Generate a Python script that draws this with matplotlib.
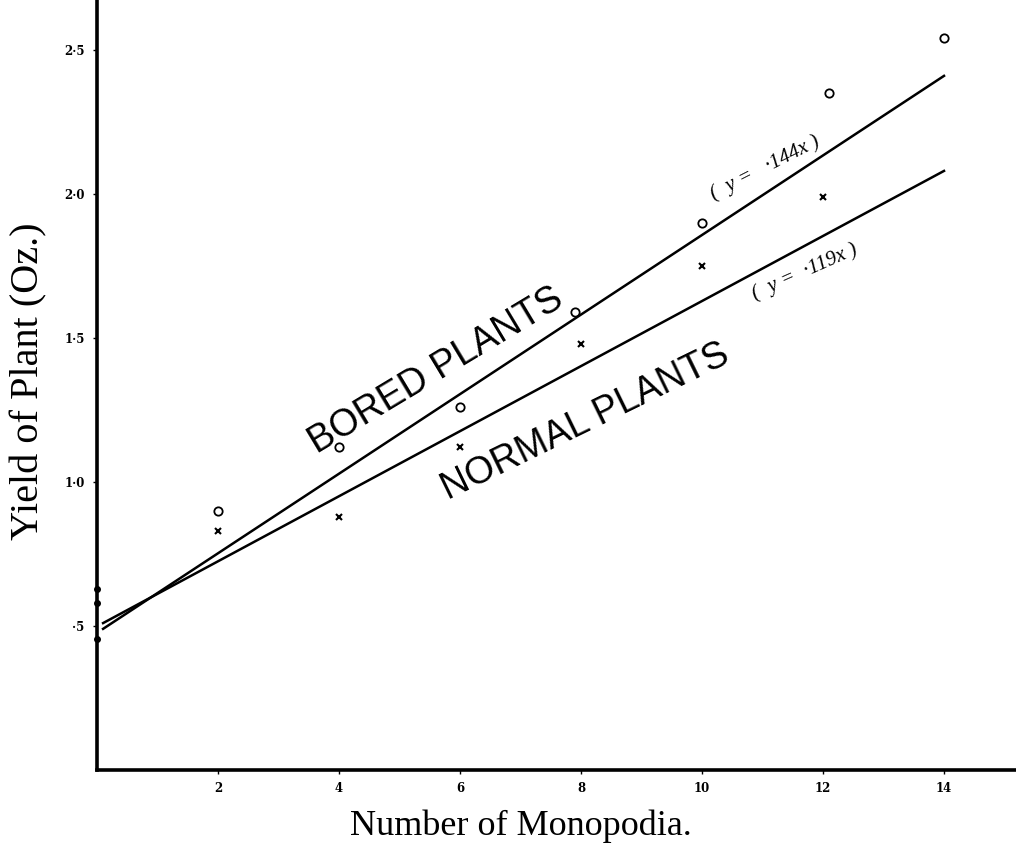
import matplotlib.pyplot as plt

# data
bored_x = [2, 4, 6, 7.9, 10, 12.1, 14]
bored_y = [0.90, 1.12, 1.26, 1.59, 1.90, 2.35, 2.54]
normal_x = [2, 4, 6, 8, 10, 12]
normal_y = [0.83, 0.88, 1.12, 1.48, 1.75, 1.99]
zero_y = [0.63, 0.58, 0.455]

# fitted lines (end points)
bored_line_x = [0.1, 14.0]
bored_line_y = [0.49, 2.41]
normal_line_x = [0.1, 14.0]
normal_line_y = [0.51, 2.08]

x_ticks = [2, 4, 6, 8, 10, 12, 14]
y_ticks = [0.5, 1.0, 1.5, 2.0, 2.5]
y_tick_labels = ['·5', '1·0', '1·5', '2·0', '2·5']

fig = plt.figure(figsize=(10.16, 8.51), dpi=100)
ax = fig.add_axes([0.0955, 0.0952, 0.9045, 0.905])
ax.set_xlim(0, 15.19)
ax.set_ylim(0, 2.674)

for s in ['top', 'right']:
    ax.spines[s].set_visible(False)
for s in ['left', 'bottom']:
    ax.spines[s].set_linewidth(2.6)
    ax.spines[s].set_color('black')

ax.plot(bored_line_x, bored_line_y, color='black', lw=1.8)
ax.plot(normal_line_x, normal_line_y, color='black', lw=1.8)
ax.plot(bored_x, bored_y, 'o', mfc='none', mec='black', ms=6, mew=1.3)
ax.plot(normal_x, normal_y, 'x', color='black', ms=5, mew=1.5)
ax.plot([0] * len(zero_y), zero_y, 'o', color='black', ms=4, clip_on=False)

ax.set_xticks(x_ticks)
ax.set_xticklabels([str(v) for v in x_ticks], fontsize=8.5, fontweight='bold',
                   family='DejaVu Serif')
ax.set_yticks(y_ticks)
ax.set_yticklabels(y_tick_labels, fontsize=8.5, fontweight='bold', family='DejaVu Serif')
ax.tick_params(axis='both', length=3, width=1, pad=6)

ax.text(5.6, 1.385, 'BORED PLANTS', rotation=31, fontsize=27, family='Liberation Sans',
        ha='center', va='center', rotation_mode='anchor')
ax.text(8.08, 1.21, 'NORMAL PLANTS', rotation=26, fontsize=27, family='Liberation Sans',
        ha='center', va='center', rotation_mode='anchor')
# hand-written regression equations
ax.text(11.05, 2.09, '(  y =   ·144x )', rotation=27, fontsize=15, style='italic',
        family='Liberation Serif', ha='center', va='center', rotation_mode='anchor')
ax.text(11.7, 1.73, '(  y =  ·119x )', rotation=24, fontsize=15, style='italic',
        family='Liberation Serif', ha='center', va='center', rotation_mode='anchor')

fig.text(0.028, 0.552, 'Yield of Plant (Oz.)', rotation=90, fontsize=29,
         family='Liberation Serif', ha='center', va='center')
fig.text(0.513, 0.029, 'Number of Monopodia.', fontsize=26,
         family='Liberation Serif', ha='center', va='center')

fig.savefig('out.png', dpi=100)
